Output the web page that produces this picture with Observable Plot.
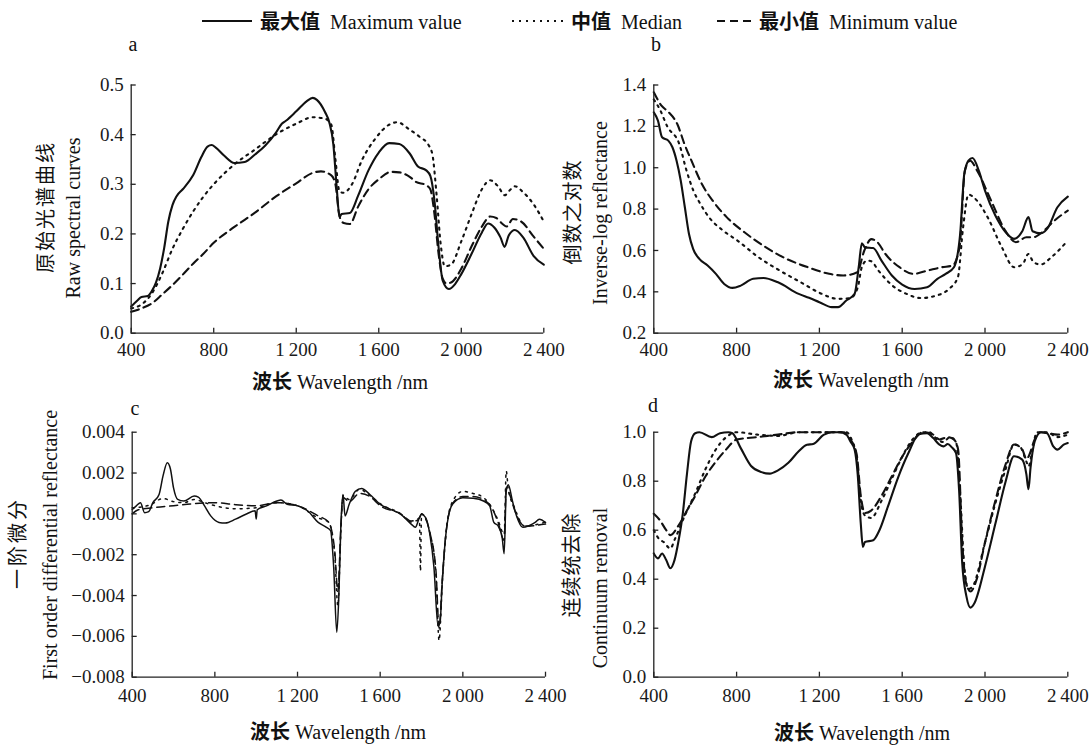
<!DOCTYPE html>
<html><head><meta charset="utf-8">
<script src="https://cdn.jsdelivr.net/npm/d3@7"></script>
<script src="https://cdn.jsdelivr.net/npm/@observablehq/plot@0.6"></script>
<style>
body{margin:0;background:#fff;}
#root{position:relative;width:1092px;height:745px;overflow:hidden;font-family:"Liberation Serif","Noto Sans CJK SC",serif;color:#111;}
#root svg text{font-family:"Liberation Serif",serif !important;font-size:19px !important;fill:#1a1a1a;}
.abs{position:absolute;white-space:nowrap;line-height:1;}
.zh{font-family:"Noto Sans CJK SC",sans-serif;}
.ttl{font-size:20px;}
.rot{transform:translate(-50%,-50%) rotate(-90deg);}
.ctr{transform:translate(-50%,-50%);}
.plot{position:absolute;}
</style></head><body><div id="root"></div>
<script>
// ---------- data ----------
const xTicks = [400, 800, 1200, 1600, 2000, 2400];
const seriesNames = ["最大值 Maximum value", "中值 Median", "最小值 Minimum value"];

// a: raw spectral curves
const rawMax = [[400,0.054],[430,0.066],[450,0.073],[480,0.075],[500,0.085],[520,0.102],[540,0.13],[560,0.172],[580,0.225],[600,0.258],[620,0.276],[650,0.29],[700,0.318],[740,0.355],[770,0.376],[790,0.379],[810,0.374],[850,0.358],[900,0.343],[950,0.345],[1000,0.36],[1050,0.378],[1100,0.403],[1130,0.422],[1150,0.428],[1200,0.447],[1250,0.467],[1280,0.474],[1300,0.47],[1340,0.445],[1360,0.425],[1380,0.38],[1395,0.3],[1410,0.234],[1420,0.24],[1460,0.242],[1500,0.277],[1550,0.328],[1600,0.364],[1650,0.383],[1700,0.381],[1750,0.362],[1790,0.336],[1830,0.328],[1850,0.317],[1870,0.267],[1890,0.173],[1910,0.106],[1940,0.089],[1970,0.099],[2000,0.119],[2050,0.16],[2100,0.203],[2130,0.221],[2160,0.213],[2190,0.193],[2210,0.174],[2230,0.197],[2260,0.208],[2300,0.193],[2350,0.156],[2400,0.138]];
const rawMed = [[400,0.05],[450,0.058],[500,0.08],[550,0.12],[600,0.17],[650,0.21],[700,0.245],[750,0.275],[800,0.3],[900,0.34],[1000,0.37],[1100,0.4],[1200,0.422],[1280,0.435],[1340,0.432],[1370,0.42],[1390,0.35],[1410,0.285],[1430,0.283],[1470,0.3],[1520,0.35],[1580,0.39],[1650,0.42],[1690,0.425],[1750,0.41],[1800,0.395],[1840,0.38],[1860,0.36],[1880,0.28],[1900,0.18],[1920,0.135],[1950,0.138],[2000,0.185],[2050,0.24],[2100,0.29],[2140,0.308],[2180,0.295],[2210,0.278],[2240,0.29],[2260,0.296],[2300,0.284],[2350,0.26],[2400,0.225]];
const rawMin = [[400,0.043],[450,0.05],[500,0.06],[550,0.078],[600,0.097],[650,0.118],[700,0.14],[750,0.16],[800,0.182],[900,0.214],[1000,0.243],[1100,0.275],[1200,0.302],[1280,0.323],[1320,0.326],[1370,0.318],[1390,0.3],[1410,0.235],[1430,0.222],[1460,0.22],[1500,0.255],[1550,0.29],[1600,0.31],[1660,0.325],[1700,0.324],[1750,0.315],[1780,0.305],[1830,0.298],[1850,0.29],[1870,0.24],[1890,0.16],[1910,0.11],[1930,0.1],[1960,0.105],[2000,0.13],[2050,0.175],[2100,0.215],[2140,0.235],[2170,0.232],[2200,0.22],[2220,0.215],[2250,0.23],[2290,0.225],[2350,0.195],[2400,0.17]];
const aTicks = [0, 0.1, 0.2, 0.3, 0.4, 0.5];

// b: inverse-log reflectance
const logMax = [[400,1.268],[420,1.228],[440,1.147],[470,1.131],[490,1.099],[510,1.034],[530,0.938],[550,0.809],[570,0.68],[590,0.608],[620,0.559],[660,0.527],[700,0.487],[740,0.438],[780,0.419],[820,0.43],[880,0.463],[930,0.467],[1000,0.446],[1100,0.39],[1150,0.371],[1200,0.35],[1260,0.326],[1290,0.326],[1330,0.358],[1370,0.39],[1390,0.52],[1405,0.635],[1420,0.615],[1460,0.612],[1500,0.551],[1550,0.479],[1600,0.435],[1660,0.414],[1720,0.422],[1770,0.463],[1810,0.487],[1850,0.519],[1880,0.68],[1900,0.97],[1920,1.034],[1940,1.047],[1970,0.986],[2000,0.889],[2050,0.769],[2100,0.688],[2140,0.656],[2180,0.693],[2210,0.761],[2230,0.693],[2270,0.683],[2300,0.704],[2350,0.809],[2400,0.86]];
const logMed = [[400,1.33],[430,1.28],[465,1.2],[523,1.115],[557,0.99],[591,0.89],[625,0.825],[667,0.76],[735,0.696],[804,0.648],[906,0.567],[1008,0.503],[1110,0.446],[1212,0.39],[1289,0.366],[1349,0.37],[1385,0.42],[1405,0.52],[1430,0.551],[1450,0.548],[1485,0.503],[1553,0.43],[1621,0.39],[1690,0.37],[1758,0.38],[1826,0.414],[1869,0.47],[1894,0.71],[1920,0.87],[1962,0.84],[2013,0.76],[2081,0.616],[2141,0.519],[2183,0.535],[2209,0.583],[2235,0.543],[2269,0.532],[2320,0.567],[2400,0.648]];
const logMin = [[400,1.365],[437,1.3],[470,1.27],[514,1.21],[548,1.115],[582,1.034],[633,0.92],[685,0.84],[753,0.76],[838,0.688],[940,0.616],[1042,0.559],[1144,0.519],[1247,0.487],[1315,0.479],[1383,0.495],[1417,0.6],[1451,0.655],[1480,0.64],[1519,0.583],[1587,0.519],[1655,0.487],[1724,0.503],[1792,0.519],[1843,0.527],[1877,0.616],[1903,0.986],[1928,1.034],[1962,0.986],[2030,0.84],[2098,0.696],[2149,0.64],[2200,0.664],[2234,0.664],[2285,0.696],[2336,0.745],[2400,0.793]];
const bTicks = [0.2, 0.4, 0.6, 0.8, 1.0, 1.2, 1.4];

// c: first order differential reflectance (x 1e-3)
const derMax = [[400,0.22],[420,0.39],[440,0.55],[460,0.06],[480,0.11],[500,0.55],[530,0.95],[550,1.9],[570,2.5],[585,2.2],[600,1.27],[620,0.71],[650,0.63],[700,0.87],[720,0.82],[750,0.39],[780,-0.1],[820,-0.42],[850,-0.45],[900,-0.26],[950,-0.02],[995,0.15],[1000,-0.25],[1005,0.2],[1050,0.39],[1100,0.63],[1120,0.68],[1150,0.47],[1200,0.39],[1250,0.14],[1300,-0.42],[1340,-0.66],[1360,-0.82],[1375,-2.6],[1390,-5.8],[1400,-4.0],[1410,-0.5],[1420,0.95],[1430,-0.1],[1450,0.47],[1480,1.11],[1510,1.24],[1550,0.95],[1600,0.47],[1650,0.22],[1700,-0.02],[1750,-0.5],[1770,-0.66],[1790,-0.18],[1800,-0.02],[1820,-0.18],[1840,-0.98],[1860,-2.6],[1880,-5.5],[1890,-5.3],[1900,-3.4],[1920,-0.82],[1950,0.47],[2000,0.79],[2050,0.76],[2100,0.63],[2130,0.39],[2150,-0.42],[2170,-0.58],[2190,-1.14],[2200,-1.95],[2210,1.11],[2220,1.43],[2240,0.63],[2260,-0.1],[2290,-0.66],[2320,-0.58],[2350,-0.42],[2370,-0.26],[2400,-0.42]];
const derMed = [[400,0.3],[450,0.35],[500,0.5],[530,0.7],[550,0.75],[600,0.6],[650,0.55],[700,0.7],[750,0.55],[800,0.4],[900,0.25],[1000,0.3],[1100,0.55],[1200,0.4],[1300,-0.2],[1350,-0.4],[1380,-2.0],[1395,-4.5],[1410,-0.8],[1420,0.9],[1450,0.7],[1500,1.2],[1550,0.9],[1600,0.5],[1700,0.0],[1750,-0.4],[1790,-0.3],[1795,-2.8],[1800,0.0],[1840,-0.9],[1870,-3.0],[1885,-6.2],[1900,-3.5],[1920,-0.8],[1950,0.6],[2000,1.1],[2050,1.0],[2100,0.8],[2140,0.3],[2170,-0.3],[2200,-1.0],[2210,2.1],[2220,1.2],[2250,0.3],[2300,-0.6],[2400,-0.4]];
const derMin = [[400,0.0],[430,0.2],[500,0.3],[600,0.4],[700,0.5],[800,0.55],[900,0.45],[1000,0.4],[1100,0.55],[1200,0.4],[1300,-0.1],[1350,-0.4],[1380,-1.8],[1395,-3.8],[1410,-0.6],[1420,0.8],[1450,0.6],[1500,1.0],[1550,0.85],[1600,0.4],[1700,0.0],[1750,-0.35],[1790,-0.2],[1800,0.0],[1840,-0.9],[1870,-2.8],[1885,-5.6],[1900,-3.3],[1920,-0.8],[1950,0.5],[2000,0.85],[2050,0.85],[2100,0.7],[2140,0.3],[2170,-0.4],[2200,-1.3],[2210,1.3],[2225,1.0],[2250,0.2],[2300,-0.6],[2400,-0.5]];
const cTicks = [-0.008, -0.006, -0.004, -0.002, 0, 0.002, 0.004];

// d: continuum removal
const crMax = [[400,0.505],[420,0.485],[440,0.505],[460,0.478],[480,0.445],[500,0.478],[520,0.559],[540,0.667],[560,0.828],[580,0.962],[600,0.996],[620,1.0],[680,0.98],[720,0.996],[760,1.0],[780,0.996],[820,0.935],[870,0.862],[920,0.837],[960,0.831],[1000,0.844],[1050,0.875],[1100,0.922],[1140,0.949],[1170,0.952],[1220,0.989],[1260,1.0],[1320,1.0],[1350,0.962],[1370,0.929],[1385,0.828],[1400,0.626],[1410,0.532],[1420,0.552],[1460,0.559],[1490,0.6],[1530,0.694],[1580,0.815],[1630,0.915],[1680,0.992],[1720,0.996],[1750,0.976],[1780,0.949],[1800,0.942],[1820,0.952],[1840,0.938],[1860,0.915],[1875,0.761],[1890,0.465],[1910,0.331],[1930,0.284],[1950,0.304],[2000,0.452],[2050,0.626],[2100,0.8],[2140,0.902],[2180,0.888],[2200,0.828],[2210,0.767],[2220,0.855],[2240,0.962],[2270,1.0],[2300,0.996],[2330,0.942],[2350,0.929],[2380,0.949],[2400,0.956]];
const crMed = [[400,0.6],[420,0.57],[450,0.55],[480,0.525],[500,0.56],[550,0.66],[600,0.75],[650,0.85],[700,0.93],[750,0.98],[800,1.0],[900,0.99],[1000,0.985],[1100,1.0],[1200,1.0],[1330,1.0],[1360,0.96],[1380,0.9],[1400,0.72],[1420,0.66],[1450,0.65],[1500,0.72],[1550,0.81],[1600,0.9],[1650,0.97],[1700,1.0],[1730,1.0],[1770,0.97],[1800,0.96],[1830,0.98],[1860,0.96],[1880,0.75],[1900,0.45],[1920,0.36],[1940,0.37],[2000,0.55],[2050,0.71],[2100,0.85],[2140,0.95],[2170,0.94],[2200,0.88],[2210,0.86],[2230,0.93],[2250,1.0],[2300,1.0],[2350,0.98],[2400,0.99]];
const crMin = [[400,0.667],[430,0.64],[460,0.6],[480,0.58],[520,0.62],[560,0.68],[600,0.74],[650,0.82],[700,0.88],[750,0.93],[800,0.97],[900,0.98],[1000,0.99],[1100,1.0],[1300,1.0],[1350,0.97],[1380,0.91],[1400,0.74],[1420,0.67],[1450,0.68],[1500,0.74],[1550,0.82],[1600,0.9],[1650,0.96],[1700,1.0],[1750,0.99],[1780,0.97],[1820,0.98],[1850,0.97],[1870,0.93],[1890,0.55],[1910,0.38],[1930,0.35],[1960,0.4],[2000,0.55],[2050,0.72],[2100,0.87],[2140,0.95],[2180,0.93],[2200,0.89],[2210,0.9],[2240,0.97],[2270,1.0],[2350,0.99],[2400,1.0]];
const dTicks = [0, 0.2, 0.4, 0.6, 0.8, 1.0];

// ---------- helpers ----------
const root = document.getElementById("root");
const thin = "\u2009";
const fmtX = d => d >= 1000 ? `${Math.floor(d / 1000)}${thin}${String(d % 1000).padStart(3, "0")}` : `${d}`;
const serif = '"Liberation Serif", serif';
const styles = [
  {strokeWidth: 2.1},
  {strokeWidth: 2.1, strokeDasharray: "2,5"},
  {strokeWidth: 2.1, strokeDasharray: "8,5"}
];

function addDiv(html, cls, left, top, extra = "") {
  const el = document.createElement("div");
  el.className = "abs " + cls;
  el.style.left = left + "px";
  el.style.top = top + "px";
  if (extra) el.style.cssText += extra;
  el.innerHTML = html;
  root.appendChild(el);
  return el;
}

function panel({left, top, width, height, frame, yDomain, yTicks, yFmt, series, scale = 1, sw = 2.1, xPad = 14, letter, letterPos}) {
  const [fx0, fy0, fx1, fy1] = frame;
  const marks = [];
  series.forEach((data, i) => {
    marks.push(Plot.line(data, {x: d => d[0], y: d => d[1] * scale, stroke: "#111", curve: "monotone-x", ...styles[i], strokeWidth: sw}));
  });
  marks.push(Plot.ruleX([400], {stroke: "#222", strokeWidth: 1.3}));
  marks.push(Plot.ruleY([yDomain[0]], {stroke: "#222", strokeWidth: 1.3}));
  marks.push(Plot.axisX({ticks: xTicks, tickFormat: fmtX, tickSize: -5, tickPadding: xPad, label: null, stroke: "#222", strokeWidth: 1.3, fontFamily: serif, fontSize: 19}));
  marks.push(Plot.axisY({ticks: yTicks, tickFormat: yFmt, tickSize: -5, tickPadding: 12.5, label: null, stroke: "#222", strokeWidth: 1.3, fontFamily: serif, fontSize: 19}));
  const svg = Plot.plot({
    width, height,
    marginLeft: fx0 - left, marginTop: fy0 - top,
    marginRight: left + width - fx1, marginBottom: top + height - fy1,
    x: {domain: [400, 2400]},
    y: {domain: yDomain},
    style: {fontFamily: serif, fontSize: "19px", color: "#1a1a1a", background: "transparent", overflow: "visible"},
    marks
  });
  svg.classList.add("plot");
  svg.style.left = left + "px";
  svg.style.top = top + "px";
  root.appendChild(svg);
  addDiv(letter, "ttl ctr", letterPos[0], letterPos[1]);
}

// ---------- legend ----------
function legendLine(x0, x1, y, i) {
  const ns = "http://www.w3.org/2000/svg";
  const s = document.createElementNS(ns, "svg");
  s.setAttribute("width", x1 - x0); s.setAttribute("height", 6);
  s.style.cssText = `position:absolute;left:${x0}px;top:${y - 3}px;`;
  const l = document.createElementNS(ns, "line");
  l.setAttribute("x1", 0); l.setAttribute("x2", x1 - x0); l.setAttribute("y1", 3); l.setAttribute("y2", 3);
  l.setAttribute("stroke", "#111"); l.setAttribute("stroke-width", 2.2);
  if (styles[i].strokeDasharray) l.setAttribute("stroke-dasharray", styles[i].strokeDasharray);
  s.appendChild(l);
  root.appendChild(s);
}
const legY = 21;
const legendPos = [[202, 252, 260], [512, 563, 571], [717, 756, 759]];
seriesNames.forEach((name, i) => {
  const [zh, ...en] = name.split(" ");
  const [a, b, t] = legendPos[i];
  legendLine(a, b, legY, i);
  addDiv(`<b class="zh">${zh}</b>&nbsp;&nbsp;${en.join(" ")}`, "ttl", t, legY, "transform:translateY(-50%);");
});

// ---------- panels ----------
const f1 = d3.format(".1f"), f3 = d3.format(".3f");
panel({left: 0, top: 60, width: 560, height: 320, frame: [130.7, 84.5, 543.3, 332.7], yDomain: [0, 0.5], yTicks: aTicks, yFmt: f1, series: [rawMax, rawMed, rawMin], xPad: 14, letter: "a", letterPos: [133, 44]});
panel({left: 560, top: 60, width: 532, height: 320, frame: [653.3, 84.5, 1067.3, 332.7], yDomain: [0.2, 1.4], yTicks: bTicks, yFmt: f1, series: [logMax, logMed, logMin], xPad: 14, letter: "b", letterPos: [656, 44]});
panel({left: 0, top: 400, width: 560, height: 320, frame: [131.7, 431.7, 545, 676.7], yDomain: [-0.008, 0.004], yTicks: cTicks, yFmt: f3, series: [derMax, derMed, derMin], scale: 1e-3, sw: 1.5, xPad: 16, letter: "c", letterPos: [135, 408]});
panel({left: 560, top: 400, width: 532, height: 320, frame: [653.3, 431.7, 1067.3, 676.7], yDomain: [0, 1.0], yTicks: dTicks, yFmt: f1, series: [crMax, crMed, crMin], xPad: 16, letter: "d", letterPos: [653, 405]});

// ---------- axis titles ----------
const xTitle = '<b class="zh">波长</b> Wavelength /nm';
addDiv(xTitle, "ttl ctr", 340, 381);
addDiv(xTitle, "ttl ctr", 861, 379);
addDiv(xTitle, "ttl ctr", 338, 731);
addDiv(xTitle, "ttl ctr", 862, 732);

addDiv('原始光谱曲线', "ttl rot zh", 45, 207, "letter-spacing:2px;");
addDiv('Raw spectral curves', "ttl rot", 73, 218);
addDiv('倒数之对数', "ttl rot zh", 572, 212, "letter-spacing:1px;");
addDiv('Inverse-log reflectance', "ttl rot", 600, 213);
addDiv('一阶微分', "ttl rot zh", 17, 543, "letter-spacing:3px;");
addDiv('First order differential reflectance', "ttl rot", 50, 545);
addDiv('连续统去除', "ttl rot zh", 571, 565, "letter-spacing:1px;");
addDiv('Continuum removal', "ttl rot", 600, 588);
</script></body></html>
